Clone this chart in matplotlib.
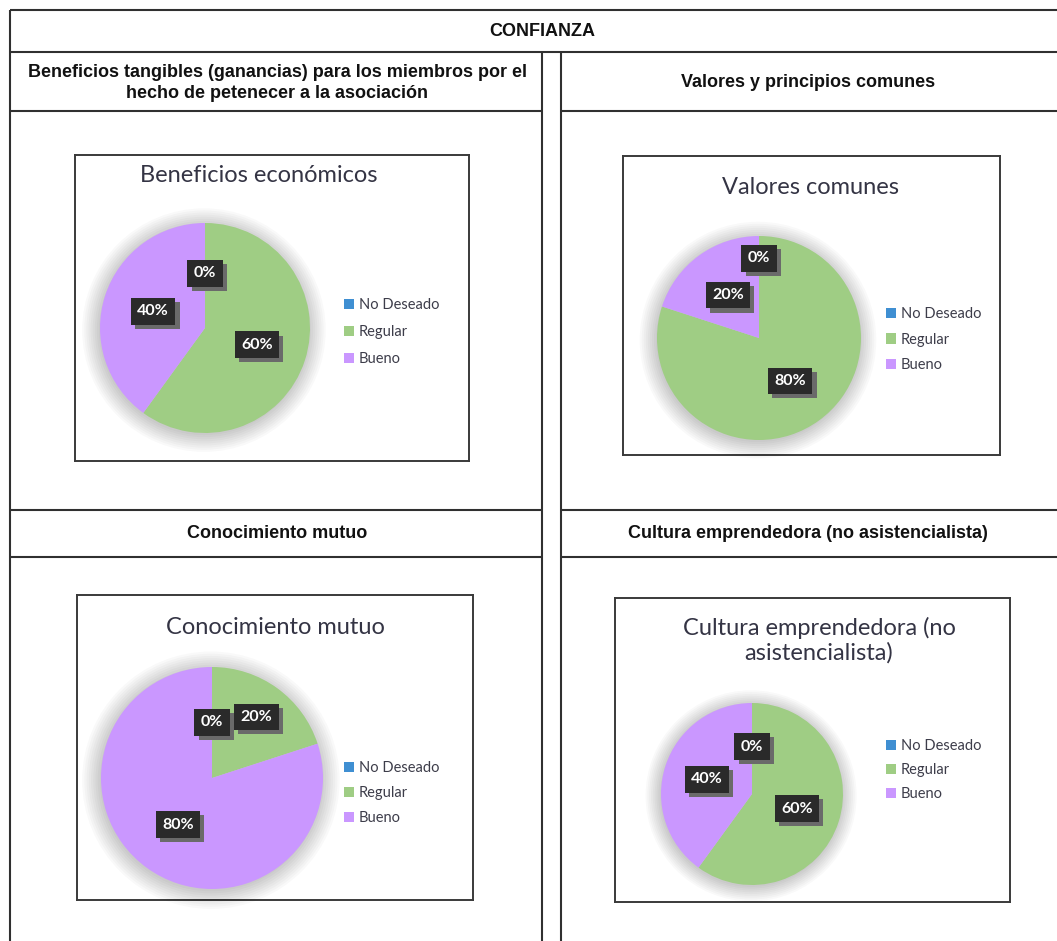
import numpy as np
import matplotlib
matplotlib.use('Agg')
import matplotlib.pyplot as plt
import matplotlib.patheffects as pe

# data
categories = ['No Deseado', 'Regular', 'Bueno']
beneficios = [0, 60, 40]
valores = [0, 80, 20]
conocimiento = [0, 20, 80]
cultura = [0, 60, 40]

colors = ['#3F8FD2', '#9FCD84', '#CA97FF']

W, H = 1057, 941
fig = plt.figure(figsize=(W / 100, H / 100), dpi=100)
fig.patch.set_facecolor('white')

# background axes in pixel coords for the table
bg = fig.add_axes([0, 0, 1, 1])
bg.set_xlim(0, W)
bg.set_ylim(H, 0)
bg.axis('off')

line_kw = dict(color='#303030', lw=1.5, solid_capstyle='butt')
bg.plot([10, W], [10, 10], **line_kw)
bg.plot([10, W], [52, 52], **line_kw)
for y in (111, 510, 557):
    bg.plot([10, 542], [y, y], **line_kw)
    bg.plot([561, W], [y, y], **line_kw)
bg.plot([10, 10], [10, H], **line_kw)
bg.plot([542, 542], [52, H], **line_kw)
bg.plot([561, 561], [52, H], **line_kw)

head_font = dict(family='Liberation Sans', weight='bold',
                 fontsize=13, color='#111111', ha='center', va='center')
bg.text(542, 31, 'CONFIANZA', **head_font)
bg.text(277, 83, 'Beneficios tangibles (ganancias) para los miembros por el\nhecho de petenecer a la asociación',
        linespacing=1.3, **head_font)
bg.text(808, 82, 'Valores y principios comunes', **head_font)
bg.text(277, 533, 'Conocimiento mutuo', **head_font)
bg.text(808, 533, 'Cultura emprendedora (no asistencialista)', **head_font)


def fx(x):
    return x / W


def fy(y):
    return 1 - y / H


def draw_chart(values, title, box, title_xy, pie_c, pie_r, legend_xy, spacing, label_dist):
    x0, y0, x1, y1 = box
    bax = fig.add_axes([fx(x0), fy(y1), fx(x1) - fx(x0), fy(y0) - fy(y1)])
    bax.set_xticks([])
    bax.set_yticks([])
    for s in bax.spines.values():
        s.set_color('#3a3a3a')
        s.set_linewidth(1.4)
    tx, ty = title_xy
    fig.text(fx(tx), fy(ty), title, family='Lato', fontsize=17,
             color='#343444', ha='center', va='center', linespacing=1.15, zorder=10)

    cx, cy = pie_c
    m = 1.25
    pr = pie_r * m
    pax = fig.add_axes([fx(cx - pr), fy(cy + pr), 2 * pr / W, 2 * pr / H])
    pax.patch.set_alpha(0)
    # soft shadow around the pie
    for k in np.linspace(1.16, 1.0, 9):
        pax.add_patch(plt.Circle((-0.01, -0.02), k, color='#000000', alpha=0.025, lw=0, zorder=0))
    wedges, _ = pax.pie(values, colors=colors, startangle=90, counterclock=False,
                        radius=1, wedgeprops=dict(linewidth=0, zorder=1))
    pax.set_xlim(-m, m)
    pax.set_ylim(-m, m)
    pax.set_aspect('equal')
    pax.axis('off')

    for i, (w, v) in enumerate(zip(wedges, values)):
        mid = np.deg2rad((w.theta1 + w.theta2) / 2)
        d = label_dist[i]
        t = pax.text(d * np.cos(mid), d * np.sin(mid), '%d%%' % v, ha='center', va='center',
                     fontsize=11.5, weight='bold', family='Lato', color='white',
                     bbox=dict(boxstyle='square,pad=0.4', fc='#2a2a2a', ec='none'), zorder=4)
        t.get_bbox_patch().set_path_effects([
            pe.SimplePatchShadow(offset=(3, -3), shadow_rgbFace='#6a6a6a', alpha=1.0),
            pe.Normal()])

    lx, ly = legend_xy
    bax.legend(wedges, categories, loc='upper left', bbox_to_anchor=(fx(lx), fy(ly)),
               bbox_transform=fig.transFigure, frameon=False,
               prop=dict(family='Lato', size=10.5), handlelength=0.7, handleheight=0.7,
               handletextpad=0.3, labelspacing=spacing, borderpad=0, borderaxespad=0,
               labelcolor='#3d3d4a')


draw_chart(beneficios, 'Beneficios económicos', (75, 155, 469, 461), (259, 175),
           (205, 328), 105, (344, 298), 0.9, [0.52, 0.52, 0.52])
draw_chart(valores, 'Valores comunes', (623, 156, 1000, 455), (811, 187),
           (759, 338), 102, (886, 307), 0.8, [0.78, 0.52, 0.52])
draw_chart(conocimiento, 'Conocimiento mutuo', (77, 595, 473, 900), (275, 627),
           (212, 778), 111, (344, 761), 0.75, [0.50, 0.68, 0.52])
draw_chart(cultura, 'Cultura emprendedora (no\nasistencialista)', (615, 598, 1010, 902), (819, 640),
           (752, 794), 91, (886, 739), 0.68, [0.52, 0.52, 0.52])

fig.savefig('out.png', dpi=100, facecolor='white')
